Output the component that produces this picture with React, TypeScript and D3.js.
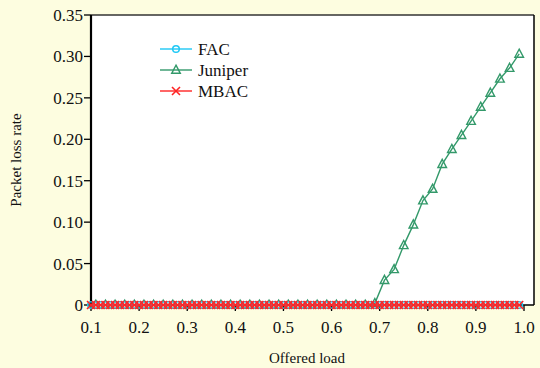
import React from "react";
import * as d3 from "d3";

// offered load sample points (FAC / MBAC sampled every 0.01)
const fineLoads = [
  0.1, 0.11, 0.12, 0.13, 0.14, 0.15, 0.16, 0.17, 0.18, 0.19, 0.2, 0.21, 0.22,
  0.23, 0.24, 0.25, 0.26, 0.27, 0.28, 0.29, 0.3, 0.31, 0.32, 0.33, 0.34, 0.35,
  0.36, 0.37, 0.38, 0.39, 0.4, 0.41, 0.42, 0.43, 0.44, 0.45, 0.46, 0.47, 0.48,
  0.49, 0.5, 0.51, 0.52, 0.53, 0.54, 0.55, 0.56, 0.57, 0.58, 0.59, 0.6, 0.61,
  0.62, 0.63, 0.64, 0.65, 0.66, 0.67, 0.68, 0.69, 0.7, 0.71, 0.72, 0.73, 0.74,
  0.75, 0.76, 0.77, 0.78, 0.79, 0.8, 0.81, 0.82, 0.83, 0.84, 0.85, 0.86, 0.87,
  0.88, 0.89, 0.9, 0.91, 0.92, 0.93, 0.94, 0.95, 0.96, 0.97, 0.98, 0.99,
];
// Juniper sampled every 0.02
const juniperLoads = [
  0.11, 0.13, 0.15, 0.17, 0.19, 0.21, 0.23, 0.25, 0.27, 0.29, 0.31, 0.33, 0.35,
  0.37, 0.39, 0.41, 0.43, 0.45, 0.47, 0.49, 0.51, 0.53, 0.55, 0.57, 0.59, 0.61,
  0.63, 0.65, 0.67, 0.69, 0.71, 0.73, 0.75, 0.77, 0.79, 0.81, 0.83, 0.85, 0.87,
  0.89, 0.91, 0.93, 0.95, 0.97, 0.99,
];

const facLoss = [
  0, 0, 0, 0, 0, 0, 0, 0, 0, 0, 0, 0, 0, 0, 0, 0, 0, 0, 0, 0, 0, 0, 0, 0, 0, 0,
  0, 0, 0, 0, 0, 0, 0, 0, 0, 0, 0, 0, 0, 0, 0, 0, 0, 0, 0, 0, 0, 0, 0, 0, 0, 0,
  0, 0, 0, 0, 0, 0, 0, 0, 0, 0, 0, 0, 0, 0, 0, 0, 0, 0, 0, 0, 0, 0, 0, 0, 0, 0,
  0, 0, 0, 0, 0, 0, 0, 0, 0, 0, 0, 0,
];
const juniperLoss = [
  0, 0, 0, 0, 0, 0, 0, 0, 0, 0, 0, 0, 0, 0, 0, 0, 0, 0, 0, 0, 0, 0, 0, 0, 0, 0,
  0, 0, 0, 0.002, 0.03, 0.043, 0.072, 0.097, 0.126, 0.14, 0.17, 0.188, 0.205,
  0.222, 0.239, 0.256, 0.273, 0.286, 0.303,
];
const mbacLoss = [
  0, 0, 0, 0, 0, 0, 0, 0, 0, 0, 0, 0, 0, 0, 0, 0, 0, 0, 0, 0, 0, 0, 0, 0, 0, 0,
  0, 0, 0, 0, 0, 0, 0, 0, 0, 0, 0, 0, 0, 0, 0, 0, 0, 0, 0, 0, 0, 0, 0, 0, 0, 0,
  0, 0, 0, 0, 0, 0, 0, 0, 0, 0, 0, 0, 0, 0, 0, 0, 0, 0, 0, 0, 0, 0, 0, 0, 0, 0,
  0, 0, 0, 0, 0, 0, 0, 0, 0, 0, 0, 0,
];

const xTicks = [0.1, 0.2, 0.3, 0.4, 0.5, 0.6, 0.7, 0.8, 0.9, 1.0];
const yTicks = [0, 0.05, 0.1, 0.15, 0.2, 0.25, 0.3, 0.35];
const legendNames = ["FAC", "Juniper", "MBAC"];

const COLORS = { FAC: "#1ec8f5", Juniper: "#33996a", MBAC: "#ff2424" };
const FONT = "'Times New Roman', 'Liberation Serif', serif";

const WIDTH = 540;
const HEIGHT = 368;
const PLOT = { left: 91, top: 15, right: 534, bottom: 305 };

const Marker = ({ kind, x, y }: { kind: string; x: number; y: number }) => {
  if (kind === "FAC") {
    return (
      <circle cx={x} cy={y} r={3.3} fill="none" stroke={COLORS.FAC} strokeWidth={1.5} />
    );
  }
  if (kind === "Juniper") {
    const s = 4.3;
    return (
      <path
        d={`M${x},${y - s - 0.5}L${x + s},${y + s - 1}L${x - s},${y + s - 1}Z`}
        fill="none"
        stroke={COLORS.Juniper}
        strokeWidth={1.4}
      />
    );
  }
  const s = 4;
  return (
    <path
      d={`M${x - s},${y - s}L${x + s},${y + s}M${x - s},${y + s}L${x + s},${y - s}`}
      stroke={COLORS.MBAC}
      strokeWidth={1.6}
    />
  );
};

export default function App() {
  const xScale = d3.scaleLinear().domain([0.1, 1.0]).range([PLOT.left, 524]);
  const yScale = d3.scaleLinear().domain([0, 0.35]).range([PLOT.bottom, PLOT.top]);

  const line = d3
    .line<[number, number]>()
    .x((d) => xScale(d[0]))
    .y((d) => yScale(d[1]));

  const series = [
    { name: "Juniper", pts: juniperLoads.map((x, i) => [x, juniperLoss[i]] as [number, number]) },
    { name: "FAC", pts: fineLoads.map((x, i) => [x, facLoss[i]] as [number, number]) },
    { name: "MBAC", pts: fineLoads.map((x, i) => [x, mbacLoss[i]] as [number, number]) },
  ];

  const yFmt = (v: number) => (v === 0 ? "0" : d3.format(".2f")(v));

  return (
    <svg
      width={WIDTH}
      height={HEIGHT}
      style={{ position: "absolute", left: 0, top: 0 }}
      fontFamily={FONT}
    >
      <rect width={WIDTH} height={HEIGHT} fill="#fdfde0" />
      <rect
        x={PLOT.left}
        y={PLOT.top}
        width={PLOT.right - PLOT.left}
        height={PLOT.bottom - PLOT.top}
        fill="#ffffff"
      />
      {/* frame */}
      <line x1={PLOT.left} x2={PLOT.right} y1={PLOT.top} y2={PLOT.top} stroke="#333" strokeWidth={1.5} />
      <line x1={PLOT.right} x2={PLOT.right} y1={PLOT.top} y2={PLOT.bottom} stroke="#000" strokeWidth={1.5} />
      <line x1={PLOT.left} x2={PLOT.right} y1={PLOT.bottom} y2={PLOT.bottom} stroke="#000" strokeWidth={1.5} />
      <line x1={PLOT.left} x2={PLOT.left} y1={PLOT.top} y2={PLOT.bottom + 1} stroke="#000" strokeWidth={2.2} />

      {/* y axis */}
      {yTicks.map((t) => (
        <g key={t}>
          <line x1={PLOT.left - 7} x2={PLOT.left} y1={yScale(t)} y2={yScale(t)} stroke="#000" strokeWidth={1.3} />
          <text x={PLOT.left - 8} y={yScale(t)} dy="0.35em" textAnchor="end" fontSize={17} fontFamily={FONT} fill="#111">
            {yFmt(t)}
          </text>
        </g>
      ))}
      {/* x axis */}
      {xTicks.map((t) => (
        <g key={t}>
          <line x1={xScale(t)} x2={xScale(t)} y1={PLOT.bottom} y2={PLOT.bottom + 6} stroke="#000" strokeWidth={1.3} />
          <text x={xScale(t)} y={333} textAnchor="middle" fontSize={17} fontFamily={FONT} fill="#111">
            {d3.format(".1f")(t)}
          </text>
        </g>
      ))}

      <text x={307} y={363} textAnchor="middle" fontSize={15} fontFamily={FONT} fill="#111">
        Offered load
      </text>
      <text
        transform="translate(21,160) rotate(-90)"
        textAnchor="middle"
        fontSize={15}
        fontFamily={FONT}
        fill="#111"
      >
        Packet loss rate
      </text>

      {/* series */}
      {series.map((s) => (
        <g key={s.name}>
          <path
            d={line(s.pts) ?? ""}
            fill="none"
            stroke={COLORS[s.name as keyof typeof COLORS]}
            strokeWidth={1.4}
          />
          {s.pts.map((p, i) => (
            <Marker key={i} kind={s.name} x={xScale(p[0])} y={yScale(p[1])} />
          ))}
        </g>
      ))}

      {/* legend */}
      {legendNames.map((name, i) => {
        const y = 49 + i * 21;
        return (
          <g key={name}>
            <line x1={160} x2={192} y1={y} y2={y} stroke={COLORS[name as keyof typeof COLORS]} strokeWidth={1.4} />
            <Marker kind={name} x={176} y={y} />
            <text x={198} y={y} dy="0.35em" fontSize={17} fontFamily={FONT} fill="#111">
              {name}
            </text>
          </g>
        );
      })}
    </svg>
  );
}
